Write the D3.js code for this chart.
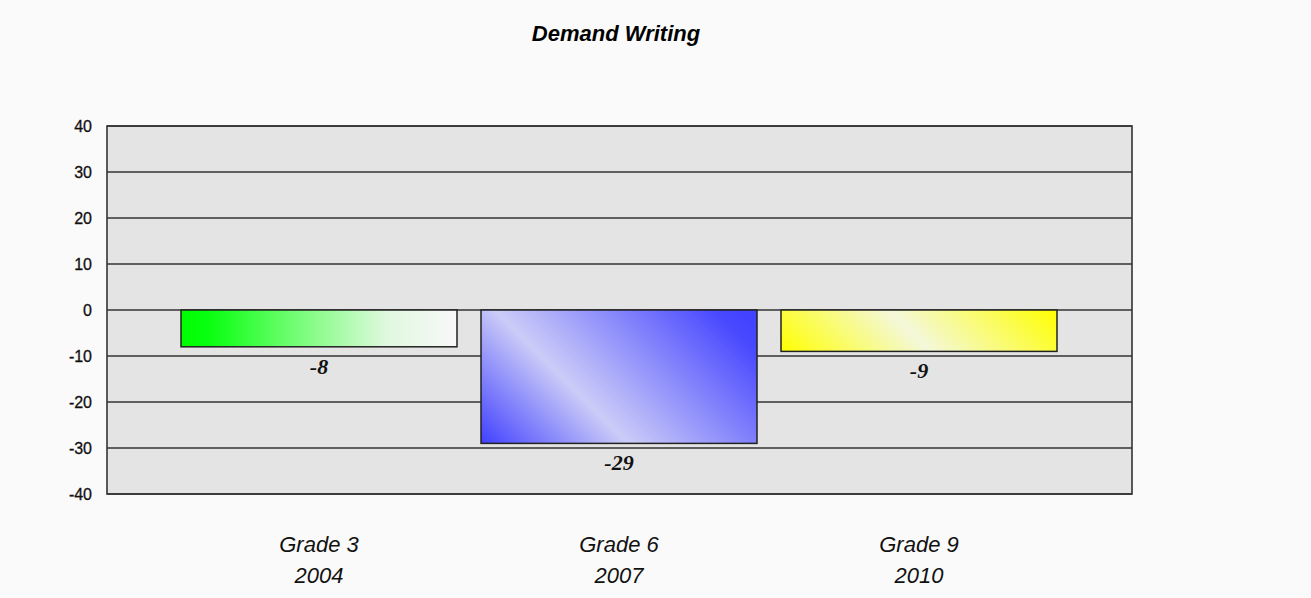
<!DOCTYPE html>
<html>
<head>
<meta charset="utf-8">
<title>Demand Writing</title>
<script src="https://cdnjs.cloudflare.com/ajax/libs/d3/7.8.5/d3.min.js"></script>
<style>
  body { margin: 0; background-color: #FAFAFA; }
  svg { display: block; }
</style>
</head>
<body>
<svg width="1311" height="598"></svg>
<script>
// data
var grades = ["Grade 3", "Grade 6", "Grade 9"];
var years = ["2004", "2007", "2010"];
var values = [-8, -29, -9];
var yTicks = [40, 30, 20, 10, 0, -10, -20, -30, -40];

var svg = d3.select("svg");

// plot box
var plotL = 107, plotR = 1132, plotT = 126, plotB = 494;

var y = d3.scaleLinear().domain([-40, 40]).range([plotB, plotT]);
var x = d3.scaleBand().domain(grades).range([169, 1069])
  .paddingInner(0.08).paddingOuter(0.04);

// gradients
var defs = svg.append("defs");
function addStops(g, stops) {
  stops.forEach(function(s) {
    g.append("stop").attr("offset", s[0]).attr("stop-color", s[1]);
  });
}
// green: plain left to right
var g0 = defs.append("linearGradient").attr("id", "g0")
  .attr("x1", 0).attr("y1", 0).attr("x2", 1).attr("y2", 0);
addStops(g0, [[0, "#00FF00"], [0.1, "#08FF10"], [0.5, "#90FC90"], [0.75, "#E0F8E0"], [1, "#F8F8F8"]]);

// blue and yellow: 45 degree stripes, set in user space from the bar box
function diagGrad(id, i, stops) {
  var x0 = x(grades[i]), w = x.bandwidth();
  var yb = y(values[i]), yt = y(0);
  var k = (w + (yb - yt)) / 2;
  var g = defs.append("linearGradient").attr("id", id)
    .attr("gradientUnits", "userSpaceOnUse")
    .attr("x1", x0).attr("y1", yb)
    .attr("x2", x0 + k).attr("y2", yb - k);
  addStops(g, stops);
}
diagGrad("g1", 1, [[0, "#4040FF"], [0.36, "#CCCCF8"], [0.9, "#4848FF"], [1, "#4040FF"]]);
diagGrad("g2", 2, [[0, "#FFFF00"], [0.47, "#F4F8DA"], [1, "#FFFF00"]]);

svg.append("rect")
  .attr("x", plotL).attr("y", plotT)
  .attr("width", plotR - plotL).attr("height", plotB - plotT)
  .attr("fill", "#E4E4E4");

// gridlines
svg.selectAll(".grid").data(yTicks).enter().append("line")
  .attr("x1", plotL).attr("x2", plotR)
  .attr("y1", function(d) { return y(d); })
  .attr("y2", function(d) { return y(d); })
  .attr("stroke", "#333").attr("stroke-width", 1.6);

// y tick labels
svg.selectAll(".ytl").data(yTicks).enter().append("text")
  .attr("x", 92).attr("y", function(d) { return y(d) + 6; })
  .attr("text-anchor", "end")
  .attr("font-family", "Liberation Sans, Arial, sans-serif")
  .attr("font-size", 16)
  .attr("stroke", "#111").attr("stroke-width", 0.3)
  .attr("fill", "#111")
  .text(function(d) { return d; });

// bars
svg.selectAll(".bar").data(values).enter().append("rect")
  .attr("x", function(d, i) { return x(grades[i]); })
  .attr("y", function(d) { return y(Math.max(0, d)); })
  .attr("width", x.bandwidth())
  .attr("height", function(d) { return Math.abs(y(d) - y(0)); })
  .attr("fill", function(d, i) { return "url(#g" + i + ")"; })
  .attr("stroke", "#222").attr("stroke-width", 1.5);

// value labels
svg.selectAll(".vl").data(values).enter().append("text")
  .attr("x", function(d, i) { return x(grades[i]) + x.bandwidth() / 2; })
  .attr("y", function(d) { return y(d) + 27; })
  .attr("text-anchor", "middle")
  .attr("font-family", "Liberation Serif, Times New Roman, serif")
  .attr("font-weight", "bold").attr("font-style", "italic")
  .attr("font-size", 22)
  .attr("fill", "#111")
  .text(function(d) { return d; });

// plot border
svg.append("rect")
  .attr("x", plotL).attr("y", plotT)
  .attr("width", plotR - plotL).attr("height", plotB - plotT)
  .attr("fill", "none").attr("stroke", "#333").attr("stroke-width", 1.6);

// category labels
var cat = svg.selectAll(".cat").data(grades).enter().append("text")
  .attr("text-anchor", "middle")
  .attr("font-family", "Liberation Sans, Arial, sans-serif")
  .attr("font-style", "italic")
  .attr("font-size", 22)
  .attr("fill", "#111");
cat.append("tspan")
  .attr("x", function(d) { return x(d) + x.bandwidth() / 2; })
  .attr("y", 552)
  .text(function(d) { return d; });
cat.append("tspan")
  .attr("x", function(d) { return x(d) + x.bandwidth() / 2; })
  .attr("y", 583)
  .text(function(d, i) { return years[i]; });

// title
svg.append("text")
  .attr("x", 616).attr("y", 41)
  .attr("text-anchor", "middle")
  .attr("font-family", "Liberation Sans, Arial, sans-serif")
  .attr("font-weight", "bold").attr("font-style", "italic")
  .attr("font-size", 22)
  .text("Demand Writing");
</script>
</body>
</html>
